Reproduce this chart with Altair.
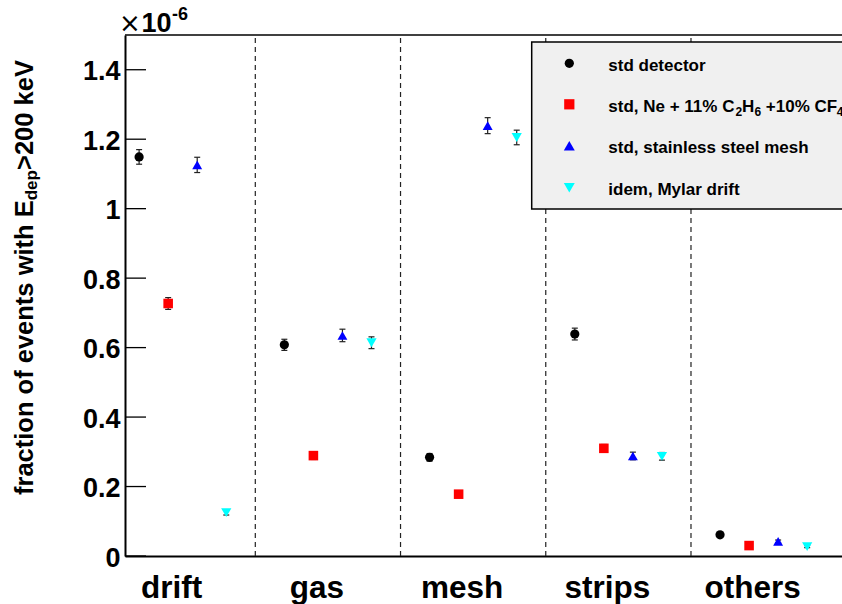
import altair as alt
import pandas as pd

# ---------------- data ----------------
categories = ["drift", "gas", "mesh", "strips", "others"]
series = ["std detector", "std, Ne + 11% C2H6 +10% CF4",
          "std, stainless steel mesh", "idem, Mylar drift"]

std_detector = [1.149, 0.608, 0.284, 0.639, 0.061]
std_ne_c2h6_cf4 = [0.727, 0.289, 0.178, 0.310, 0.030]
std_steel_mesh = [1.126, 0.635, 1.239, 0.288, 0.042]
idem_mylar = [0.125, 0.614, 1.205, 0.287, 0.027]

err_std_detector = [0.021, 0.016, 0.011, 0.017, 0.005]
err_std_ne = [0.017, 0.011, 0.008, 0.011, 0.004]
err_steel_mesh = [0.022, 0.018, 0.023, 0.011, 0.004]
err_mylar = [0.007, 0.017, 0.021, 0.011, 0.003]

y_ticks = [0, 0.2, 0.4, 0.6, 0.8, 1.0, 1.2, 1.4]
boundaries = [1, 2, 3, 4]

# ---------------- styles ----------------
FONT = "Liberation Sans"
colors = ["#000000", "#ff0000", "#0000ff", "#00ffff"]
shapes = ["circle", "square", "triangle-up", "triangle-down"]
sizes = [85, 105, 120, 120]

L, T = 125, 35          # plot origin on the canvas
W, H = 717, 521         # plot area

values = [std_detector, std_ne_c2h6_cf4, std_steel_mesh, idem_mylar]
errors = [err_std_detector, err_std_ne, err_steel_mesh, err_mylar]
rows = []
for k, s in enumerate(series):
    for i, c in enumerate(categories):
        v, e = values[k][i], errors[k][i]
        rows.append({"series": s, "cat": c, "u": i + 0.2 * (k + 1),
                     "v": v, "lo": v - e, "hi": v + e})
df = pd.DataFrame(rows)

xscale = alt.Scale(domain=[0.1028, 5.0398], nice=False, zero=False)
yscale = alt.Scale(domain=[0, 1.5], nice=False, zero=True)

xax = alt.Axis(labels=False, ticks=False, grid=False, title=None,
               domainColor="black", domainWidth=2)
yax = alt.Axis(values=y_ticks, format="~g", ticks=False, tickSize=0, grid=False,
               title=None, domainColor="black", domainWidth=2,
               labelFont=FONT, labelFontSize=27, labelFontWeight="bold",
               labelColor="black", labelPadding=5, labelOffset=2)

base = alt.Chart(df)

points = base.mark_point(filled=True, opacity=1, strokeWidth=0).encode(
    x=alt.X("u:Q", scale=xscale, axis=xax),
    y=alt.Y("v:Q", scale=yscale, axis=yax),
    color=alt.Color("series:N", scale=alt.Scale(domain=series, range=colors), legend=None),
    shape=alt.Shape("series:N", scale=alt.Scale(domain=series, range=shapes), legend=None),
    size=alt.Size("series:N", scale=alt.Scale(domain=series, range=sizes), legend=None),
)

ebar = base.mark_rule(color="#222222", strokeWidth=1.2).encode(
    x="u:Q", y="lo:Q", y2="hi:Q")
cap_hi = base.mark_rule(color="#222222", strokeWidth=1.2, xOffset=-3, x2Offset=3).encode(
    x="u:Q", x2="u:Q", y="hi:Q")
cap_lo = base.mark_rule(color="#222222", strokeWidth=1.2, xOffset=-3, x2Offset=3).encode(
    x="u:Q", x2="u:Q", y="lo:Q")

dashed = alt.Chart(pd.DataFrame({"b": boundaries})).mark_rule(
    color="#222222", strokeWidth=1.2, strokeDash=[5, 4]).encode(
    x="b:Q", y=alt.value(3), y2=alt.value(H))

yticks = alt.Chart(pd.DataFrame({"t": y_ticks})).mark_rule(
    color="black", strokeWidth=1.3).encode(
    y="t:Q", x=alt.value(0), x2=alt.value(21))

topline = alt.Chart(pd.DataFrame({"a": [0]})).mark_rule(
    color="black", strokeWidth=1.5).encode(
    x=alt.value(0), x2=alt.value(W + 5), y=alt.value(0))

catlab = alt.Chart(pd.DataFrame({"c": categories,
                                 "p": [i + 0.5 for i in range(len(categories))]})).mark_text(
    font=FONT, fontSize=31.5, fontWeight="bold", color="black",
    align="center", baseline="alphabetic", dx=-11).encode(
    x="p:Q", y=alt.value(597.5 - T), text="c:N")


def txt(s, x, y, size, angle=0, align="left", weight="bold", font=FONT):
    return alt.Chart(pd.DataFrame({"s": [s]})).mark_text(
        font=font, fontSize=size, fontWeight=weight, color="black",
        align=align, baseline="alphabetic", angle=angle).encode(
        x=alt.value(x - L), y=alt.value(y - T), text="s:N")


annots = [
    # y title with subscript
    txt("fraction of events with E", 32.5, 495, 25.5, angle=270),
    txt("dep", 36.5, 200.3, 17, angle=270),
    txt(">200 keV", 32.5, 170, 25.5, angle=270),
    # exponent
    txt("\u00d7", 119, 31.7, 26, weight="normal", font="DejaVu Sans"),
    txt("10", 141.5, 31.7, 27),
    txt("-6", 172, 20, 18),
]

# legend box
legend_box = alt.Chart(pd.DataFrame({"a": [0]})).mark_rect(
    fill="#f0f0f0", stroke="black", strokeWidth=1.5).encode(
    x=alt.value(531.7 - L), x2=alt.value(860 - L),
    y=alt.value(42 - T), y2=alt.value(209 - T))

leg_rows_y = [63.3, 104.3, 145.7, 187.7]
leg_layers = []
for k in range(len(series)):
    leg_layers.append(
        alt.Chart(pd.DataFrame({"a": [0]})).mark_point(
            filled=True, opacity=1, strokeWidth=0, shape=shapes[k],
            size=sizes[k], color=colors[k]).encode(
            x=alt.value(569.3 - L), y=alt.value(leg_rows_y[k] - T)))

LX = 608.3
leg_texts = [
    txt("std detector", LX, leg_rows_y[0] + 7.4, 17),
    txt("std, Ne + 11% C", LX, leg_rows_y[1] + 7.4, 17),
    txt("2", 735.4, leg_rows_y[1] + 11.5, 12),
    txt("H", 742.1, leg_rows_y[1] + 7.4, 17),
    txt("6", 754.4, leg_rows_y[1] + 11.5, 12),
    txt("+10% CF", 765.8, leg_rows_y[1] + 7.4, 17),
    txt("4", 836.8, leg_rows_y[1] + 11.5, 12),
    txt("std, stainless steel mesh", LX, leg_rows_y[2] + 7.4, 17),
    txt("idem, Mylar drift", LX, leg_rows_y[3] + 7.4, 17),
]

chart = alt.layer(
    dashed, yticks, ebar, cap_hi, cap_lo, points, topline, catlab,
    *annots, legend_box, *leg_layers, *leg_texts
).properties(
    width=W, height=H,
    padding={"left": L, "top": T, "right": 0, "bottom": 604 - T - H},
    autosize=alt.AutoSizeParams(type="none"),
    background="white",
).configure_view(strokeWidth=0)

chart.save("out.html", embed_options={"renderer": "svg", "actions": False})
